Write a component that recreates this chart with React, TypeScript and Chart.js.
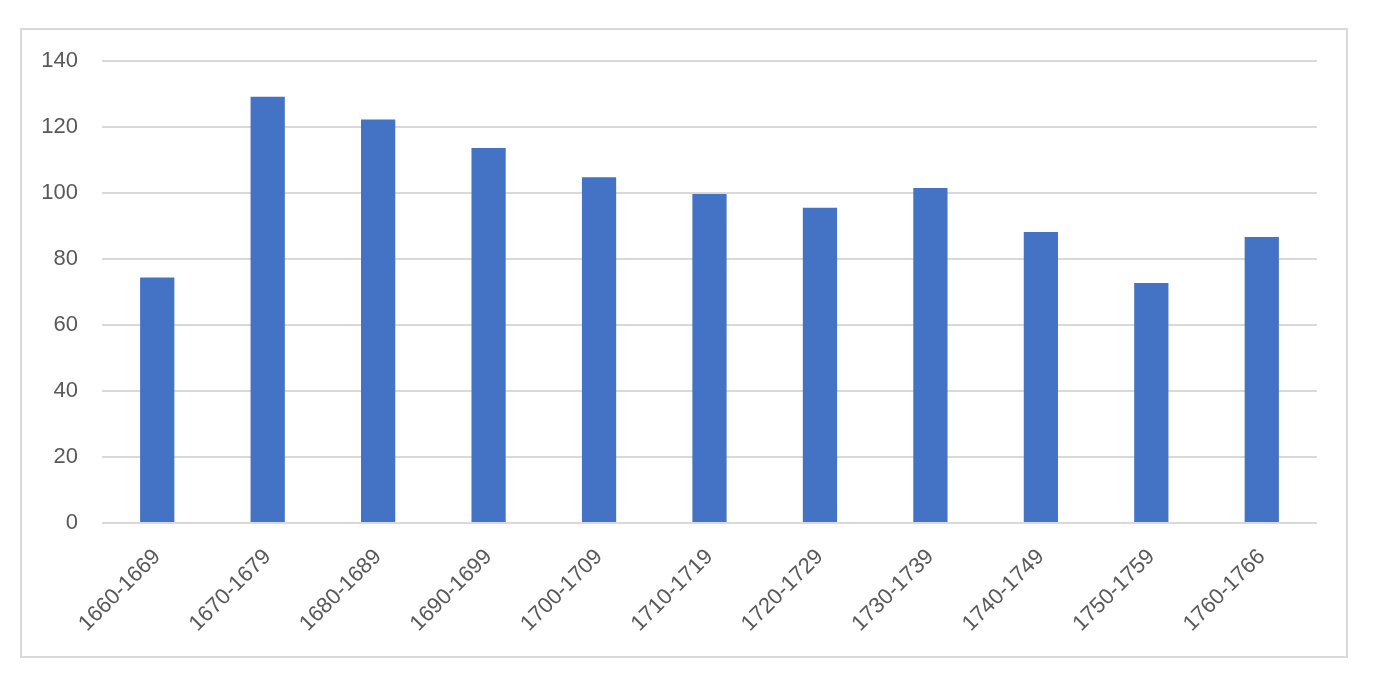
import React, { useEffect, useRef } from "react";
import { Chart, registerables } from "chart.js";

Chart.register(...registerables);

const categories: string[] = [
  "1660-1669", "1670-1679", "1680-1689", "1690-1699", "1700-1709", "1710-1719",
  "1720-1729", "1730-1739", "1740-1749", "1750-1759", "1760-1766",
];
const values: number[] = [74.4, 129.2, 122.3, 113.6, 104.8, 99.7, 95.5, 101.5, 88.2, 72.7, 86.7];
const yMin = 0;
const yMax = 140;
const yStep = 20;

const FONT = "'Liberation Sans', Arial, sans-serif";

export default function App() {
  const canvasRef = useRef<HTMLCanvasElement | null>(null);

  useEffect(() => {
    if (!canvasRef.current) return;
    const chart = new Chart(canvasRef.current, {
      type: "bar",
      data: {
        labels: categories,
        datasets: [
          {
            data: values,
            backgroundColor: "#4472C4",
            borderWidth: 0,
            barPercentage: 0.62,
            categoryPercentage: 0.5,
          },
        ],
      },
      options: {
        animation: false,
        responsive: false,
        maintainAspectRatio: false,
        layout: { padding: { left: 22, right: 71, top: 61, bottom: 50 } },
        plugins: { legend: { display: false }, tooltip: { enabled: false } },
        scales: {
          x: {
            grid: { display: false },
            border: { display: false },
            ticks: {
              autoSkip: false,
              minRotation: 45,
              maxRotation: 45,
              padding: 13,
              color: "#595959",
              font: { family: FONT, size: 22 },
            },
            afterFit: (s: any) => {
              s.height = 120;
            },
          },
          y: {
            min: yMin,
            max: yMax,
            grid: { color: "#d9d9d9", lineWidth: 2, drawTicks: false },
            border: { display: false },
            ticks: {
              stepSize: yStep,
              padding: 24,
              color: "#595959",
              font: { family: FONT, size: 22 },
            },
            afterFit: (s: any) => {
              s.width = 80;
            },
          },
        },
      },
    });
    return () => chart.destroy();
  }, []);

  return (
    <div style={{ position: "absolute", left: 0, top: 0, width: 1388, height: 693, background: "#fff" }}>
      <div
        style={{
          position: "absolute",
          left: 20,
          top: 28,
          width: 1328,
          height: 630,
          boxSizing: "border-box",
          border: "2px solid #d9d9d9",
        }}
      />
      <canvas
        ref={canvasRef}
        width={1388}
        height={693}
        style={{ position: "absolute", left: 0, top: 0, width: 1388, height: 693 }}
      />
    </div>
  );
}
